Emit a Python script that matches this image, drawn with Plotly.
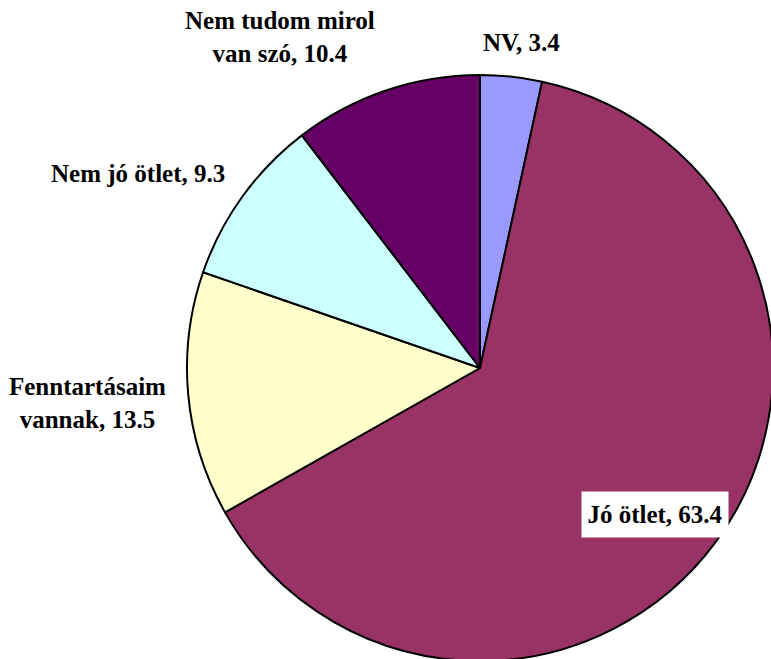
import plotly.graph_objects as go

labels = ["NV", "Jó ötlet", "Fenntartásaim vannak", "Nem jó ötlet", "Nem tudom mirol van szó"]
values = [3.4, 63.4, 13.5, 9.3, 10.4]
colors = ["#9999FF", "#993366", "#FFFFCC", "#CCFFFF", "#660066"]
label_text = ["NV, 3.4", "Jó ötlet, 63.4", "Fenntartásaim<br>vannak, 13.5", "Nem jó ötlet, 9.3", "Nem tudom mirol<br>van szó, 10.4"]

# figure slightly larger than the window; the page is clipped to 771x659
W, H = 790, 680
cx, cy, r = 480, 368, 293
fig = go.Figure(go.Pie(
    labels=labels, values=values, sort=False, direction="clockwise", rotation=0,
    marker=dict(colors=colors, line=dict(color="black", width=2)),
    textinfo="none", hoverinfo="label+value", showlegend=False,
    domain=dict(x=[(cx - r) / W, (cx + r) / W], y=[1 - (cy + r) / H, 1 - (cy - r) / H]),
))

pos = [(521, 42), (655, 514), (87, 403), (138, 173), (280, 37)]
font = dict(family="Liberation Serif, Times New Roman, serif", size=25, color="black")
for i, (px, py) in enumerate(pos):
    txt = "<b>" + label_text[i].replace("<br>", "</b><br><b>") + "</b>"
    kw = dict(bgcolor="white", borderpad=4, width=138, height=37) if i == 1 else {}
    fig.add_annotation(
        x=px / W, y=1 - py / H, xref="paper", yref="paper", text=txt,
        xanchor="center", yanchor="middle",
        showarrow=False, font=font, align="center", **kw,
    )

fig.update_layout(width=W, height=H, margin=dict(l=0, r=0, t=0, b=0),
                  paper_bgcolor="white", plot_bgcolor="white")
fig.write_html("out.html", config={"displayModeBar": False},
               post_script="document.body.style.margin='0';document.body.style.overflow='hidden';"
                           "document.documentElement.style.overflow='hidden';")
